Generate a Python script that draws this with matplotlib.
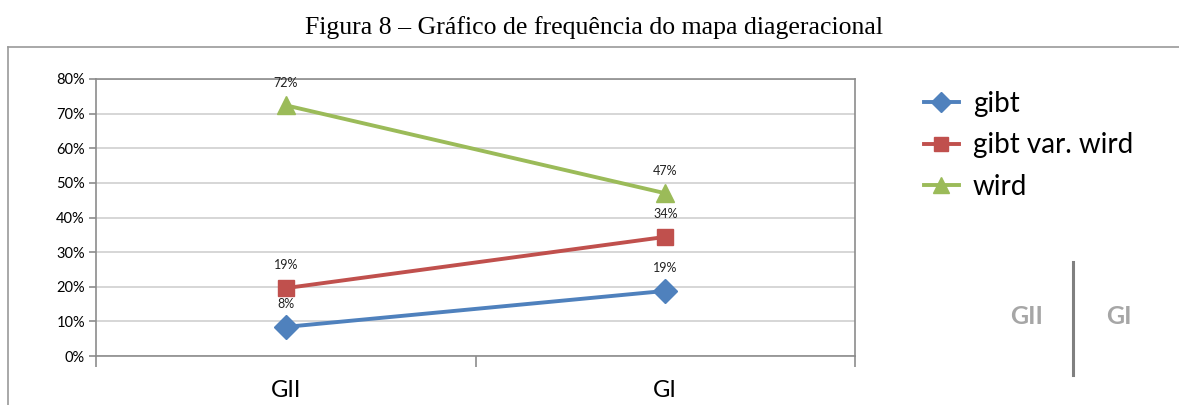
import matplotlib.pyplot as plt
from matplotlib.lines import Line2D
from matplotlib.ticker import PercentFormatter

plt.rcParams['font.family'] = ['Lato', 'DejaVu Sans']

categories = ["GII", "GI"]
gibt = [8.4, 18.8]
gibt_var = [19.6, 34.4]
wird = [72.4, 47.0]
gibt_labels = ["8%", "19%"]
gibt_var_labels = ["19%", "34%"]
wird_labels = ["72%", "47%"]

series = [
    ("gibt", gibt, gibt_labels, "#4F81BD", "D", 12),
    ("gibt var. wird", gibt_var, gibt_var_labels, "#C0504D", "s", 12),
    ("wird", wird, wird_labels, "#9BBB59", "^", 13),
]

fig = plt.figure(figsize=(11.79, 4.05), dpi=100)

# title and page frame
fig.text(0.504, 0.933, "Figura 8 \u2013 Gráfico de frequência do mapa diageracional",
         ha="center", va="center", fontsize=18.5, family="Liberation Serif")
fig.add_artist(Line2D([8/1179, 1], [1-47/405, 1-47/405], color="#9a9a9a", lw=1.2))
fig.add_artist(Line2D([8/1179, 8/1179], [0, 1-47/405], color="#9a9a9a", lw=1.2))

ax = fig.add_axes([96/1179, 1-356/405, (855-96)/1179, (356-79)/405])
x = list(range(len(categories)))
for name, vals, labs, col, mk, ms in series:
    ax.plot(x, vals, color=col, lw=2.8, marker=mk, markersize=ms, label=name, zorder=3)
    for xi, v, lab in zip(x, vals, labs):
        ax.annotate(lab, (xi, v), xytext=(0, 12), textcoords="offset points",
                    ha="center", va="bottom", fontsize=9, color="#222222")

ax.set_xlim(-0.5, 1.5)
ax.set_ylim(0, 80)
ax.set_yticks(range(0, 81, 10))
ax.yaxis.set_major_formatter(PercentFormatter(decimals=0))
ax.grid(axis="y", color="#d0d0d0", lw=1.2)
ax.set_axisbelow(True)
ax.set_xticks([-0.5, 0.5, 1.5])
ax.set_xticklabels([])
ax.set_xticks(x, minor=True)
ax.set_xticklabels(categories, minor=True, fontsize=17)
ax.tick_params(axis="x", which="minor", length=0, pad=17)
ax.tick_params(axis="x", which="major", length=8, color="#8c8c8c", width=1.2)
ax.tick_params(axis="y", length=5, color="#8c8c8c", width=1.2, labelsize=10.5, pad=3)
for s in ax.spines.values():
    s.set_color("#8c8c8c")
    s.set_linewidth(1.2)

leg = fig.legend(handles=ax.get_lines(), loc="upper left",
                 bbox_to_anchor=(913/1179, 1-80/405), frameon=False,
                 fontsize=20, handlelength=1.25, labelspacing=0.55,
                 handletextpad=0.5, borderaxespad=0, markerscale=0.85)

# inset note on the right
fig.text(1027/1179, 1-316/405, "GII", ha="center", va="center",
         fontsize=18, color="#a6a6a6", fontweight="bold")
fig.text(1119/1179, 1-316/405, "GI", ha="center", va="center",
         fontsize=18, color="#a6a6a6", fontweight="bold")
fig.add_artist(Line2D([1073/1179, 1073/1179], [1-262/405, 1-375/405],
                      color="#808080", lw=2.2))

fig.savefig("out.png", dpi=100)
